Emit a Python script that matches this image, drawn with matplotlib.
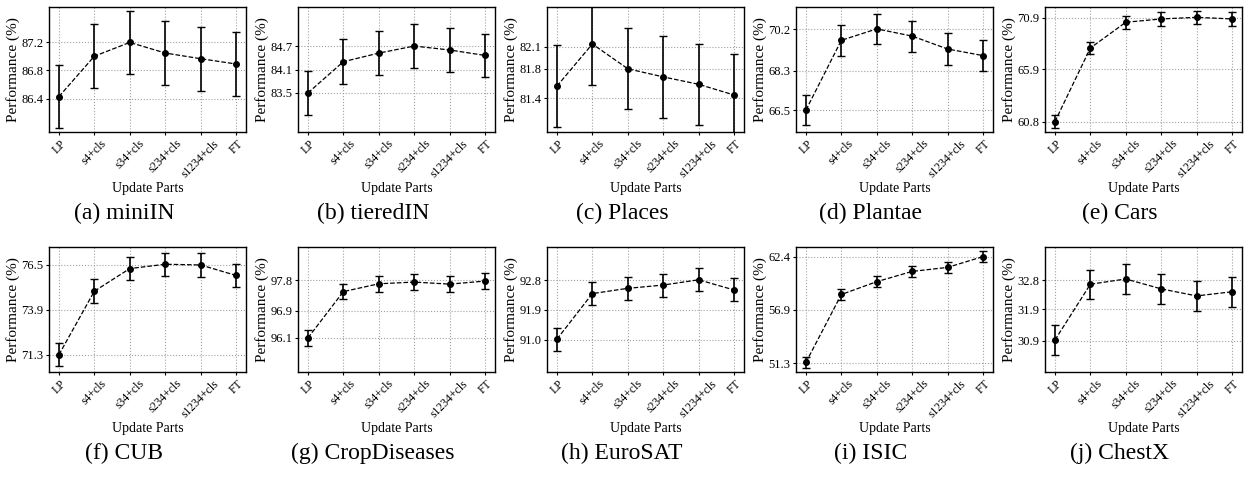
import matplotlib
matplotlib.use('Agg')
import matplotlib.pyplot as plt

plt.rcParams['font.family'] = ['Liberation Serif', 'DejaVu Serif']

parts = ['LP', 's4+cls', 's34+cls', 's234+cls', 's1234+cls', 'FT']

captions = ['(a) miniIN', '(b) tieredIN', '(c) Places', '(d) Plantae', '(e) Cars',
            '(f) CUB', '(g) CropDiseases', '(h) EuroSAT', '(i) ISIC', '(j) ChestX']

# mean performance per dataset
mini_in = [86.43, 87.00, 87.195, 87.045, 86.965, 86.89]
tiered_in = [83.50, 84.30, 84.52, 84.70, 84.60, 84.46]
places = [81.565, 82.135, 81.80, 81.69, 81.59, 81.445]
plantae = [66.50, 69.69, 70.21, 69.88, 69.29, 68.99]
cars = [60.80, 67.95, 70.45, 70.77, 70.93, 70.77]
cub = [71.30, 74.98, 76.29, 76.54, 76.50, 75.89]
crop = [96.10, 97.46, 97.69, 97.74, 97.68, 97.77]
eurosat = [91.01, 92.40, 92.56, 92.66, 92.82, 92.51]
isic = [51.37, 58.47, 59.81, 60.88, 61.30, 62.43]
chestx = [30.93, 32.675, 32.84, 32.53, 32.31, 32.44]

# confidence intervals
mini_in_err = [0.44, 0.45, 0.45, 0.45, 0.45, 0.45]
tiered_in_err = [0.57, 0.57, 0.56, 0.56, 0.56, 0.56]
places_err = [0.55, 0.55, 0.55, 0.55, 0.55, 0.55]
plantae_err = [0.69, 0.71, 0.70, 0.71, 0.71, 0.70]
cars_err = [0.62, 0.61, 0.64, 0.66, 0.64, 0.64]
cub_err = [0.67, 0.69, 0.68, 0.67, 0.67, 0.67]
crop_err = [0.23, 0.22, 0.23, 0.23, 0.23, 0.23]
eurosat_err = [0.35, 0.35, 0.35, 0.35, 0.35, 0.35]
isic_err = [0.53, 0.55, 0.57, 0.58, 0.55, 0.55]
chestx_err = [0.46, 0.46, 0.47, 0.47, 0.47, 0.47]

yticks = [[86.4, 86.8, 87.2], [83.5, 84.1, 84.7], [81.4, 81.8, 82.1],
          [66.5, 68.3, 70.2], [60.8, 65.9, 70.9], [71.3, 73.9, 76.5],
          [96.1, 96.9, 97.8], [91.0, 91.9, 92.8], [51.3, 56.9, 62.4],
          [30.9, 31.9, 32.8]]

# extra room above/below the means
pads = [0.5, 1.0, 0.5, 1.0, 1.0, 1.0, 1.0, 1.0, 1.0, 1.0]

means = [mini_in, tiered_in, places, plantae, cars, cub, crop, eurosat, isic, chestx]
errs = [mini_in_err, tiered_in_err, places_err, plantae_err, cars_err,
        cub_err, crop_err, eurosat_err, isic_err, chestx_err]

W, H = 1244, 479
fig = plt.figure(figsize=(W / 100, H / 100), dpi=100)

x = list(range(len(parts)))
for i in range(10):
    row, col = divmod(i, 5)
    left = 49 + 249 * col
    top = 7 + 240 * row
    ax = fig.add_axes([left / W, 1 - (top + 125) / H, 197 / W, 125 / H])

    ax.errorbar(x, means[i], yerr=errs[i], fmt='o--', color='black', ms=4,
                lw=0.9, elinewidth=1.2, capsize=3, capthick=1.0)
    ax.grid(True, linestyle=':', color='#a0a0a0', linewidth=0.8)
    ax.set_axisbelow(True)

    ax.set_xlim(-0.28, 5.28)
    ax.set_ylim(min(means[i]) - pads[i], max(means[i]) + pads[i])
    ax.set_yticks(yticks[i])
    ax.set_yticklabels(['%.1f' % t for t in yticks[i]], fontsize=9)
    ax.set_xticks(x)
    ax.set_xticklabels(parts, rotation=45, fontsize=8.5)
    ax.tick_params(length=2, pad=2)
    ax.set_ylabel('Performance (%)', fontsize=11, labelpad=1)
    ax.set_xlabel('Update Parts', fontsize=10, labelpad=2)
    for s in ax.spines.values():
        s.set_linewidth(1.0)

    ax.text(0.38, -0.65, captions[i], transform=ax.transAxes,
            ha='center', va='center', fontsize=17)

fig.savefig('out.png', dpi=100)
